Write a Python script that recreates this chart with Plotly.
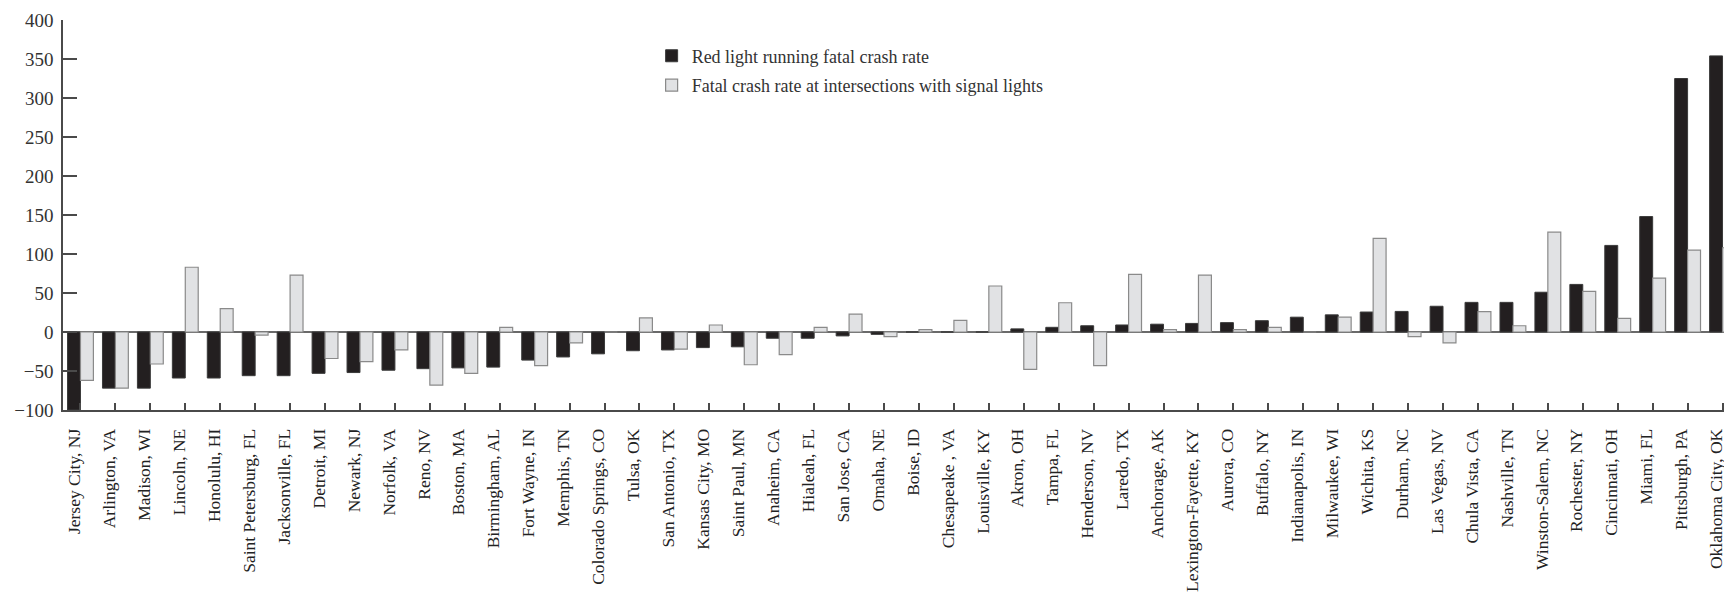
import plotly.graph_objects as go

cities = ["Jersey City, NJ", "Arlington, VA", "Madison, WI", "Lincoln, NE", "Honolulu, HI",
          "Saint Petersburg, FL", "Jacksonville, FL", "Detroit, MI", "Newark, NJ", "Norfolk, VA",
          "Reno, NV", "Boston, MA", "Birmingham, AL", "Fort Wayne, IN", "Memphis, TN",
          "Colorado Springs, CO", "Tulsa, OK", "San Antonio, TX", "Kansas City, MO", "Saint Paul, MN",
          "Anaheim, CA", "Hialeah, FL", "San Jose, CA", "Omaha, NE", "Boise, ID",
          "Chesapeake , VA", "Louisville, KY", "Akron, OH", "Tampa, FL", "Henderson, NV",
          "Laredo, TX", "Anchorage, AK", "Lexington-Fayette, KY", "Aurora, CO", "Buffalo, NY",
          "Indianapolis, IN", "Milwaukee, WI", "Wichita, KS", "Durham, NC", "Las Vegas, NV",
          "Chula Vista, CA", "Nashville, TN", "Winston-Salem, NC", "Rochester, NY", "Cincinnati, OH",
          "Miami, FL", "Pittsburgh, PA", "Oklahoma City, OK"]

red_light = [-100, -72, -72, -59, -59,
             -56, -56, -53, -52, -49,
             -47, -46, -45, -36, -32,
             -28, -24, -23, -20, -19,
             -8, -8, -5, -3, 0,
             0, 0, 4, 6, 8,
             9, 10, 11, 12, 14.5,
             19, 22, 25.6, 26.4, 33,
             38, 38, 51, 61, 111,
             148, 325, 354]

signal = [-62, -72, -41, 83, 30,
          -4, 73, -34, -38, -23,
          -68, -53, 6, -43, -14,
          0, 18, -22, 9, -42,
          -29, 6, 23, -6, 3,
          15, 59, -48, 37.5, -43,
          74, 3, 73, 3, 6,
          0, 19, 120, -6, -14,
          26, 8, 128, 52, 17.5,
          69, 105, 108]

series_names = ["Red light running fatal crash rate",
                "Fatal crash rate at intersections with signal lights"]

FONT = "Liberation Serif, Times New Roman, serif"
AXIS = "#4a4a4a"

fig = go.Figure()
fig.add_trace(go.Bar(x=cities, y=red_light, name=series_names[0],
                     marker=dict(color="#231f20", line=dict(color="#3a3a3a", width=1)),
                     legendgroup="a"))
fig.add_trace(go.Bar(x=cities, y=signal, name=series_names[1],
                     marker=dict(color="#e1e2e4", line=dict(color="#8a8a8a", width=1.2)),
                     legendgroup="b"))

fig.update_layout(
    width=1732, height=596,
    margin=dict(l=55, r=0, t=12, b=194),
    paper_bgcolor="white", plot_bgcolor="white",
    barmode="group", bargap=0.26, bargroupgap=0,
    font=dict(family=FONT, size=18, color="#222"),
    showlegend=True,
    legend=dict(x=0.351, y=0.955, xanchor="left", yanchor="top",
                bgcolor="rgba(0,0,0,0)", font=dict(family=FONT, size=18, color="#333"),
                tracegroupgap=3, traceorder="grouped", itemwidth=30),
)

fig.update_yaxes(range=[-100, 400], dtick=50, showline=True, linecolor=AXIS, linewidth=1.5,
                 ticks="inside", ticklen=14, tickcolor=AXIS, tickwidth=1.5,
                 showgrid=False, zeroline=True, zerolinecolor="#6a6a6a", zerolinewidth=1.5,
                 ticklabelstandoff=4, tickfont=dict(family=FONT, size=19, color="#333"))
fig.update_xaxes(type="category", showline=True, linecolor=AXIS, linewidth=1.5,
                 ticks="inside", ticklen=7, tickcolor=AXIS, tickwidth=1.5,
                 tickangle=-90, showgrid=False, ticklabelstandoff=10, ticklabelshift=-6,
                 tickfont=dict(family=FONT, size=17.5, color="#222"))

fig.write_html("out.html")
